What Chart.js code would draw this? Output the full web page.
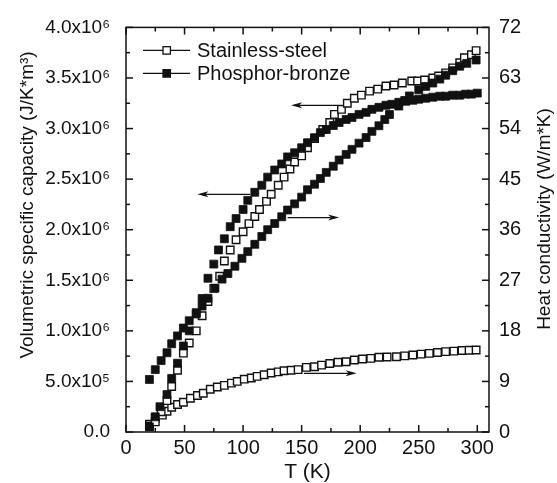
<!DOCTYPE html>
<html>
<head>
<meta charset="utf-8">
<script src="https://cdn.jsdelivr.net/npm/chart.js@4.4.0/dist/chart.umd.min.js"></script>
<style>
  html, body { margin: 0; padding: 0; background: #fff; }
  #wrap { width: 557px; height: 483px; }
</style>
</head>
<body>
<div id="wrap"><canvas id="chart" width="557" height="483"></canvas></div>
<script>
// capacity in units of 10^6 J/K*m^3, conductivity in W/m*K
const ssCapT = [20, 25, 30, 35, 39, 44, 49, 54, 60, 65, 70, 75, 80, 84, 89, 94, 100, 105, 110, 114, 120, 124, 130, 135, 140, 144, 150, 155, 161, 168, 174, 178, 184, 189, 195, 201, 208, 215, 222, 229, 236, 244, 249, 255, 262, 267, 273, 279, 285, 289, 295, 299];
const ssCap = [0.06, 0.10, 0.20, 0.31, 0.45, 0.61, 0.78, 0.88, 1.00, 1.15, 1.29, 1.42, 1.54, 1.69, 1.80, 1.90, 1.98, 2.06, 2.13, 2.20, 2.28, 2.35, 2.44, 2.52, 2.60, 2.67, 2.73, 2.81, 2.90, 2.99, 3.06, 3.14, 3.19, 3.25, 3.30, 3.33, 3.37, 3.39, 3.42, 3.43, 3.45, 3.47, 3.47, 3.48, 3.50, 3.52, 3.55, 3.60, 3.65, 3.70, 3.73, 3.77];

const pbCapT = [20, 25, 29, 35, 39, 44, 49, 54, 60, 65, 70, 75, 79, 84, 89, 94, 100, 104, 110, 116, 121, 127, 133, 138, 144, 150, 155, 161, 166, 171, 177, 182, 188, 193, 199, 205, 210, 216, 222, 227, 233, 239, 245, 250, 256, 262, 268, 273, 279, 285, 290, 295, 300];
const pbCap = [0.05, 0.15, 0.25, 0.37, 0.53, 0.68, 0.85, 1.00, 1.18, 1.32, 1.52, 1.66, 1.80, 1.91, 2.03, 2.11, 2.20, 2.29, 2.37, 2.44, 2.52, 2.59, 2.65, 2.72, 2.76, 2.81, 2.86, 2.91, 2.96, 2.99, 3.03, 3.06, 3.09, 3.11, 3.14, 3.16, 3.19, 3.21, 3.23, 3.24, 3.26, 3.27, 3.28, 3.29, 3.30, 3.31, 3.32, 3.32, 3.33, 3.33, 3.34, 3.34, 3.35];

const pbCondT = [20, 25, 30, 35, 39, 44, 49, 54, 60, 65, 70, 76, 82, 87, 93, 99, 104, 110, 116, 121, 127, 133, 138, 144, 150, 155, 161, 166, 171, 177, 182, 188, 193, 199, 205, 210, 216, 221, 225, 233, 238, 242, 250, 256, 262, 268, 273, 279, 285, 291, 299];
const pbCond = [9.35, 11.1, 12.7, 14.1, 15.7, 17.1, 18.5, 19.8, 21.0, 22.4, 23.8, 25.6, 27.2, 28.2, 29.5, 30.9, 32.1, 33.4, 34.8, 36.0, 37.1, 38.3, 39.5, 40.6, 41.8, 43.1, 44.1, 45.1, 46.2, 47.3, 48.4, 49.4, 50.3, 51.4, 52.4, 53.5, 54.5, 55.6, 56.5, 58.0, 59.0, 59.8, 60.9, 61.5, 62.1, 62.8, 63.5, 64.3, 65.1, 65.6, 66.2];

const ssCondT = [20, 25, 31, 35, 39, 44, 49, 55, 61, 66, 72, 78, 84, 90, 95, 101, 107, 112, 118, 124, 130, 135, 141, 147, 154, 161, 167, 174, 181, 188, 195, 202, 209, 216, 223, 231, 238, 245, 252, 259, 266, 273, 280, 287, 293, 299];
const ssCond = [1.4, 2.5, 3.0, 3.7, 4.4, 4.9, 5.3, 6.0, 6.5, 6.9, 7.6, 8.0, 8.3, 8.7, 9.0, 9.4, 9.6, 9.9, 10.2, 10.5, 10.7, 10.9, 11.0, 11.1, 11.5, 11.6, 11.9, 12.2, 12.4, 12.5, 12.8, 13.0, 13.1, 13.3, 13.35, 13.4, 13.55, 13.7, 13.85, 14.0, 14.15, 14.3, 14.4, 14.5, 14.55, 14.6];

const xTicks = [0, 50, 100, 150, 200, 250, 300];
const leftTicks = [0, 0.5, 1.0, 1.5, 2.0, 2.5, 3.0, 3.5, 4.0];
const leftLabels = ['0.0', '5.0x10\u2075', '1.0x10\u2076', '1.5x10\u2076', '2.0x10\u2076', '2.5x10\u2076', '3.0x10\u2076', '3.5x10\u2076', '4.0x10\u2076'];
const rightTicks = [0, 9, 18, 27, 36, 45, 54, 63, 72];

// arrows telling which axis a curve belongs to: [T, capacity] start -> end
const arrows = [
    { from: [185, 3.23], to: [141, 3.23] },
    { from: [106, 2.35], to: [61, 2.35] },
    { from: [138, 2.12], to: [182, 2.12] },
    { from: [152, 0.58], to: [197, 0.58] }
];

const FONT = "'Liberation Sans', Arial, Helvetica, sans-serif";
const INK = '#111';

function toPoints(xs, ys) {
    return xs.map((x, i) => ({ x: x, y: ys[i] }));
}

function filled(label, data, axis) {
    return {
        label: label, data: data, yAxisID: axis, showLine: false,
        pointStyle: 'rect', pointRadius: 5.6, pointHoverRadius: 5.6,
        backgroundColor: INK, borderColor: INK, borderWidth: 0.8
    };
}

function open(label, data, axis) {
    return {
        label: label, data: data, yAxisID: axis, showLine: false,
        pointStyle: 'rect', pointRadius: 5.3, pointHoverRadius: 5.3,
        backgroundColor: '#fff', borderColor: INK, borderWidth: 1.4
    };
}

function drawTickSet(ctx, scale, values, horizontal, a, len) {
    values.forEach(v => {
        const p = scale.getPixelForValue(v);
        ctx.beginPath();
        if (horizontal) {
            ctx.moveTo(p, a.bottom); ctx.lineTo(p, a.bottom - len);
            ctx.moveTo(p, a.top); ctx.lineTo(p, a.top + len);
        } else if (scale.position === 'left') {
            ctx.moveTo(a.left, p); ctx.lineTo(a.left + len, p);
        } else {
            ctx.moveTo(a.right, p); ctx.lineTo(a.right - len, p);
        }
        ctx.stroke();
    });
}

function midpoints(values) {
    const out = [];
    for (let i = 0; i < values.length - 1; i++) out.push((values[i] + values[i + 1]) / 2);
    return out;
}

const decorations = {
    id: 'decorations',
    afterDatasetsDraw(chart) {
        const { ctx, chartArea: a, scales } = chart;
        ctx.save();
        ctx.strokeStyle = INK;
        ctx.fillStyle = INK;
        ctx.lineWidth = 1.5;
        ctx.strokeRect(a.left, a.top, a.right - a.left, a.bottom - a.top);

        // inward major and minor ticks on all four sides
        drawTickSet(ctx, scales.x, xTicks, true, a, 7);
        drawTickSet(ctx, scales.x, midpoints(xTicks), true, a, 4);
        drawTickSet(ctx, scales.yL, leftTicks, false, a, 7);
        drawTickSet(ctx, scales.yL, midpoints(leftTicks), false, a, 4);
        drawTickSet(ctx, scales.yR, rightTicks, false, a, 7);
        drawTickSet(ctx, scales.yR, midpoints(rightTicks), false, a, 4);

        // arrows
        ctx.lineWidth = 1.2;
        arrows.forEach(arr => {
            const x1 = scales.x.getPixelForValue(arr.from[0]);
            const y1 = scales.yL.getPixelForValue(arr.from[1]);
            const x2 = scales.x.getPixelForValue(arr.to[0]);
            const y2 = scales.yL.getPixelForValue(arr.to[1]);
            const dir = Math.sign(x2 - x1);
            ctx.beginPath();
            ctx.moveTo(x1, y1); ctx.lineTo(x2 - dir * 6, y2);
            ctx.stroke();
            ctx.beginPath();
            ctx.moveTo(x2, y2);
            ctx.lineTo(x2 - dir * 11, y2 - 3);
            ctx.lineTo(x2 - dir * 8, y2);
            ctx.lineTo(x2 - dir * 11, y2 + 3);
            ctx.closePath();
            ctx.fill();
        });

        // legend
        const legendItems = [
            { label: 'Stainless-steel', fill: '#fff' },
            { label: 'Phosphor-bronze', fill: INK }
        ];
        ctx.font = '20px ' + FONT;
        ctx.textBaseline = 'middle';
        ctx.textAlign = 'left';
        legendItems.forEach((item, i) => {
            const y = a.top + 23 + i * 23;
            const x0 = a.left + 17;
            ctx.lineWidth = 1.2;
            ctx.beginPath();
            ctx.moveTo(x0, y); ctx.lineTo(x0 + 47, y);
            ctx.stroke();
            ctx.fillStyle = item.fill;
            ctx.fillRect(x0 + 20, y - 3.7, 7.4, 7.4);
            ctx.lineWidth = 1.3;
            ctx.strokeRect(x0 + 20, y - 3.7, 7.4, 7.4);
            ctx.fillStyle = INK;
            ctx.fillText(item.label, x0 + 54, y + 1);
        });

        // y axis titles, both reading bottom to top
        ctx.font = '19px ' + FONT;
        ctx.textAlign = 'center';
        ctx.textBaseline = 'alphabetic';
        ctx.save();
        ctx.translate(33, 205);
        ctx.rotate(-Math.PI / 2);
        ctx.fillText('Volumetric specific capacity (J/K*m\u00b3)', 0, 0);
        ctx.restore();
        ctx.save();
        ctx.translate(550, 219);
        ctx.rotate(-Math.PI / 2);
        ctx.fillText('Heat conductivity (W/m*K)', 0, 0);
        ctx.restore();

        ctx.restore();
    }
};

const tickFont = size => ({ family: FONT, size: size });

new Chart(document.getElementById('chart'), {
    type: 'scatter',
    data: {
        datasets: [
            filled('Phosphor-bronze conductivity', toPoints(pbCondT, pbCond), 'yR'),
            filled('Phosphor-bronze', toPoints(pbCapT, pbCap), 'yL'),
            open('Stainless-steel', toPoints(ssCapT, ssCap), 'yL'),
            open('Stainless-steel conductivity', toPoints(ssCondT, ssCond), 'yR')
        ]
    },
    options: {
        responsive: false,
        animation: false,
        events: [],
        layout: { padding: { top: 24, left: 0, right: 0, bottom: 0 } },
        plugins: {
            legend: { display: false },
            tooltip: { enabled: false }
        },
        scales: {
            x: {
                type: 'linear', position: 'bottom', min: 0, max: 310,
                grid: { display: false, drawTicks: false },
                border: { display: false },
                afterBuildTicks: s => { s.ticks = xTicks.map(v => ({ value: v })); },
                afterFit: s => { s.height = 51; },
                ticks: { font: tickFont(20), color: INK, padding: 4, maxRotation: 0, autoSkip: false },
                title: { display: true, text: 'T (K)', color: INK, font: { family: FONT, size: 21, lineHeight: 1 }, padding: { top: 0, bottom: 0 } }
            },
            yL: {
                type: 'linear', position: 'left', min: 0, max: 4,
                grid: { display: false, drawTicks: false },
                border: { display: false },
                afterBuildTicks: s => { s.ticks = leftTicks.map(v => ({ value: v })); },
                afterFit: s => { s.width = 126; },
                ticks: { font: tickFont(19), color: INK, padding: 16, autoSkip: false, callback: (v, i) => leftLabels[i] }
            },
            yR: {
                type: 'linear', position: 'right', min: 0, max: 72,
                grid: { display: false, drawTicks: false },
                border: { display: false },
                afterBuildTicks: s => { s.ticks = rightTicks.map(v => ({ value: v })); },
                afterFit: s => { s.width = 68; },
                ticks: { font: tickFont(20), color: INK, padding: 10, autoSkip: false }
            }
        }
    },
    plugins: [decorations]
});
</script>
</body>
</html>
